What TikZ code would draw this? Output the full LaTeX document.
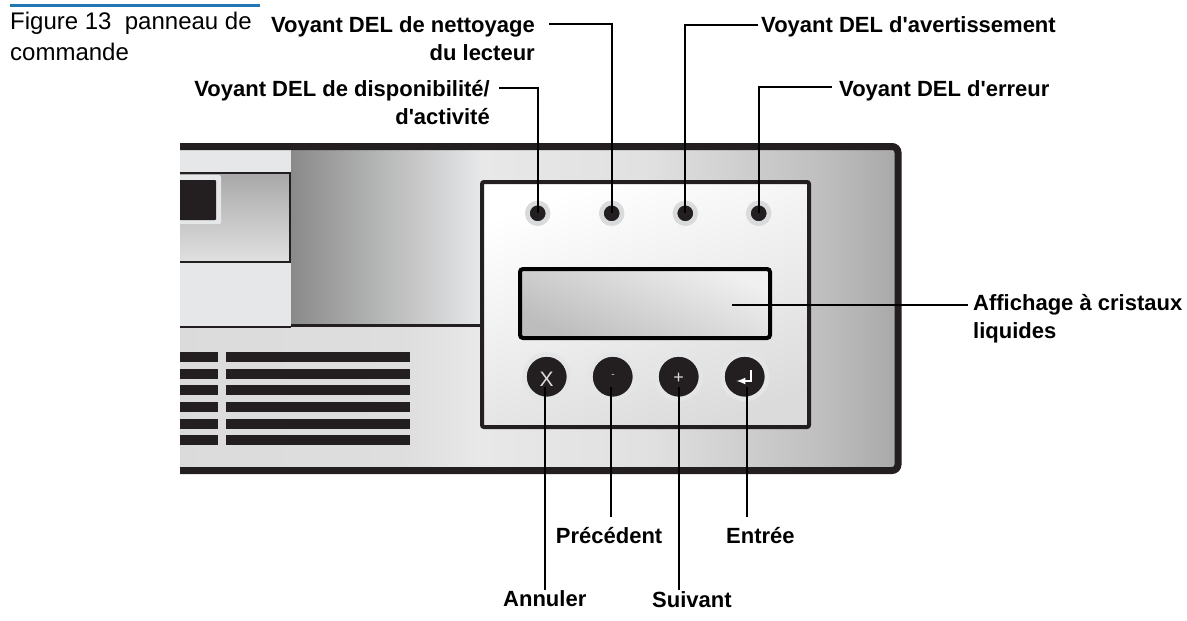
\documentclass[tikz,border=0pt]{standalone}
\usepackage{fontspec}
\setmainfont{Liberation Sans}[Ligatures=TeXOff]
\usepackage{xcolor}
\definecolor{ink}{HTML}{231F20}
\definecolor{halo}{HTML}{D9DADB}
\definecolor{keyhalo}{HTML}{E4E5E6}
\definecolor{blockgrey}{HTML}{E6E7E8}
\definecolor{rulecolor}{HTML}{1F77B4}
\pgfdeclarehorizontalshading{bodyshade}{100bp}{
    color(0bp)=(white!85!black);
    color(25.7bp)=(white!86!black);
    color(40.8bp)=(white!87!black);
    color(46.3bp)=(white!91!black);
    color(58bp)=(white!88!black);
    color(69.6bp)=(white!75!black);
    color(75bp)=(white!66!black);
    color(100bp)=(white!66!black)}

\begin{document}
\begin{tikzpicture}[x=1pt, y=-1pt]
    % ================= styles =================
    \tikzset{
        leader/.style={line width=2pt, black},
        lbl/.style={font=\fontsize{22}{28}\selectfont\bfseries, inner sep=0pt, text=black},
        capt/.style={font=\fontsize{24}{31}\selectfont, inner sep=0pt, text=black, align=left},
        led/.style={circle, fill=ink, draw=halo, line width=4.7pt, minimum size=20.7pt, inner sep=0pt},
        btn/.style={circle, fill=ink, draw=keyhalo, line width=4.5pt, minimum size=44.5pt, inner sep=0pt},
        vent/.style={fill=ink},
        glyph/.style={inner sep=0pt, text=white!85!black}
    }
    \useasboundingbox (0,0) rectangle (1187,621);

    % ================= caption =================
    \fill[rulecolor] (10,4) rectangle (260,7);
    \node[capt, anchor=base west] (caption) at (10,60) {Figure 13\ \ panneau de\\commande};

    % ================= housing, open on the left =================
    \begin{scope}
        \clip (180,130) rectangle (920,490);
        \shade[shading=bodyshade, rounded corners=6pt] (170,146.5) rectangle (898,470.5);

        % 1. left block and grey gradient
        \fill[blockgrey] (170,149) rectangle (291,326);
        \shade[left color=white!54!black, right color=blockgrey] (291,149) rectangle (480,324);
        \fill[ink] (291,324) rectangle (480,327);
        \fill[ink] (170,326) rectangle (291,327.5);

        % 2. drive bay
        \shade[top color=white!66!black, bottom color=white!88!black, draw=ink, line width=2pt]
            (170,173) rectangle (290,262);
        \fill[blockgrey, rounded corners=2pt] (170,175) rectangle (221,224);
        \fill[ink, rounded corners=1pt] (170,180) rectangle (216,220);

        % 3. vent slots
        \foreach \y in {352,369,385,402,419,435} {
            \fill[vent] (170,\y) rectangle (218,\y+10);
            \fill[vent] (226,\y) rectangle (410,\y+10);
        }

        % 4. outer frame
        \draw[ink, line width=7pt, rounded corners=6pt] (170,146.5) rectangle (898,470.5);
    \end{scope}

    % ================= control panel =================
    \shade[top color=white, bottom color=white!86!black, shading angle=20,
        draw=ink, line width=4pt, rounded corners=2pt] (482,182) rectangle (809,427);

    % 1. LCD window
    \node[draw=black, line width=4pt, rounded corners=3pt, top color=white!94!black,
        bottom color=white!74!black, shading angle=-25, minimum width=250pt, minimum height=69pt,
        inner sep=0pt, outer sep=0pt] (lcd) at (645,303.5) {};
    \coordinate (lcdTip) at (732,305);

    % 2. indicators
    \node[led] (ledA) at (537.7,213.3) {};
    \node[led] (ledB) at (611.7,213.3) {};
    \node[led] (ledC) at (685.3,213.3) {};
    \node[led] (ledD) at (758.7,213.3) {};

    % 3. keys
    \node[btn] (btnA) at (546.7,376.7) {};
    \node[btn] (btnB) at (612.7,376.7) {};
    \node[btn] (btnC) at (678.7,376.7) {};
    \node[btn] (btnD) at (744.7,376.7) {};
    \node[glyph, font=\fontsize{21}{21}\selectfont] (glyphA) at (546.7,379) {X};
    \node[glyph, font=\fontsize{10}{10}\selectfont] (glyphB) at (613,376) {-};
    \node[glyph, font=\fontsize{18}{18}\selectfont] (glyphC) at (678.7,378) {+};
    \draw[white, line width=2pt, -latex] (750.7,370) -- (750.7,381) -- (736.5,381);

    % ================= labels =================
    \node[lbl, anchor=base east, align=right] (lblReady) at (490,124) {Voyant DEL de disponibilité/\\d'activité};
    \node[lbl, anchor=base east, align=right] (lblClean) at (535,60) {Voyant DEL de nettoyage\\du lecteur};
    \node[lbl, anchor=base west] (lblWarn) at (761,32) {Voyant DEL d'avertissement};
    \node[lbl, anchor=base west] (lblError) at (839,96) {Voyant DEL d'erreur};
    \node[lbl, anchor=base west, align=left] (lblLcd) at (973,338) {Affichage à cristaux\\liquides};
    \node[lbl, anchor=base west] (lblCancel) at (503,606.7) {Annuler};
    \node[lbl, anchor=base west] (lblPrev) at (555.7,543) {Précédent};
    \node[lbl, anchor=base west] (lblNext) at (652,607) {Suivant};
    \node[lbl, anchor=base west] (lblEnter) at (726,543) {Entrée};

    % ================= leaders =================
    \draw[leader] (ledA.center) |- ([xshift=9pt,yshift=-8pt]lblReady.north east);
    \draw[leader] (ledB.center) |- ([xshift=14pt,yshift=-8.5pt]lblClean.north east);
    \draw[leader] (ledC.center) |- ([xshift=-3pt,yshift=1.5pt]lblWarn.west);
    \draw[leader] (ledD.center) |- ([xshift=-7pt,yshift=3pt]lblError.west);
    \draw[leader] (lcdTip) -- ([xshift=-5pt]lcdTip -| lblLcd.west);
    \draw[leader] ([xshift=-1.7pt,yshift=-10pt]btnA.center) -- +(0,203);
    \draw[leader] ([xshift=-2pt,yshift=-10pt]btnB.center) -- +(0,130);
    \draw[leader] ([yshift=-10pt]btnC.center) -- +(0,203);
    \draw[leader] ([xshift=2pt,yshift=-10pt]btnD.center) -- +(0,130);
\end{tikzpicture}
\end{document}
